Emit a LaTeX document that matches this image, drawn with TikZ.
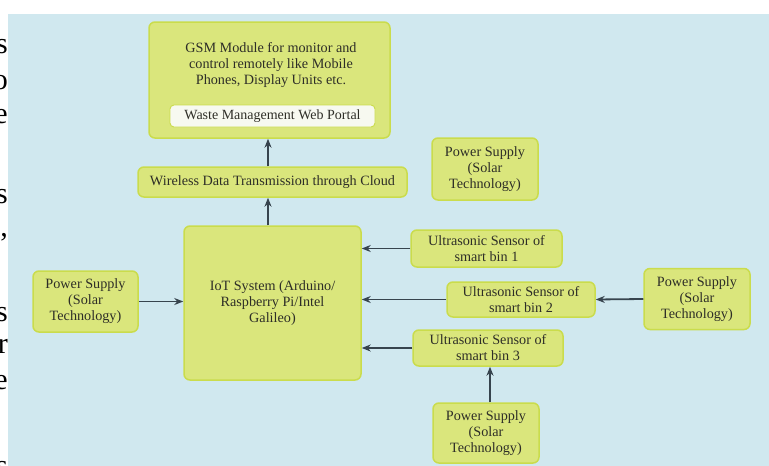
\documentclass[tikz,border=0pt]{standalone}
\usepackage{fontspec}
\setmainfont{Liberation Serif}
\usetikzlibrary{arrows.meta}
\definecolor{bgblue}{HTML}{D0E8EF}
\definecolor{boxfill}{HTML}{DAE67C}
\definecolor{boxborder}{HTML}{CADC4C}
\definecolor{arrcol}{HTML}{37444E}
\definecolor{txt}{HTML}{2E2E27}
\definecolor{portalfill}{HTML}{F7F9F0}
\tikzset{
  box/.style={draw=boxborder, line width=1.5pt, fill=boxfill, rounded corners=6pt,
    align=center, text=txt, font=\fontsize{14.2}{16}\selectfont, inner sep=0pt},
  plain/.style={align=center, text=txt, font=\fontsize{14.2}{16}\selectfont, inner sep=0pt},
  arr/.style={-{Stealth[length=9pt,width=7pt]}, line width=1.8pt, draw=arrcol},
  edge letter/.style={anchor=base east, inner sep=0pt, font=\fontsize{30}{30}\selectfont, text=black}
}
\begin{document}
\begin{tikzpicture}[x=1pt,y=-1pt]
\useasboundingbox (0,0) rectangle (769,466);
\clip (0,0) rectangle (769,466);
% page text fragments at the left edge
\node[edge letter] (l1) at (8,53) {s};
\node[edge letter] (l2) at (8,89) {o};
\node[edge letter] (l3) at (8,123) {e};
\node[edge letter] (l4) at (8,203) {s};
\node[edge letter] (l5) at (8,236) {,};
\node[edge letter] (l6) at (8,321) {s};
\node[edge letter] (l7) at (8,353) {r};
\node[edge letter] (l8) at (8,389) {e};
\node[edge letter] (l9) at (8,475) {s};
% background
\fill[bgblue] (8,14) rectangle (769,466);

% top module
\node[box, minimum width=241pt, minimum height=116pt] (gsm) at (269.5,80) {};
\node[plain] (gsmtext) at (271,65.5) {GSM Module for monitor and\\control remotely like Mobile\\Phones, Display Units etc.};
\node[draw=boxborder, line width=0.9pt, fill=portalfill, rounded corners=4pt, text=txt,
  font=\fontsize{14}{16}\selectfont, minimum width=205pt, minimum height=22pt, inner sep=0pt]
  (portal) at (272.5,116) {Waste Management Web Portal};

\node[box, minimum width=269pt, minimum height=30pt] (wireless) at (272.5,182) {Wireless Data Transmission through Cloud};
\node[box, minimum width=177pt, minimum height=154pt] (iot) at (272.5,303) {IoT System (Arduino/\\Raspberry Pi/Intel\\Galileo)};

\node[box, minimum width=105pt, minimum height=61pt] (psL) at (85.5,301.5) {Power Supply\\(Solar\\Technology)};
\node[box, minimum width=106pt, minimum height=62pt] (psT) at (485,169) {Power Supply\\(Solar\\Technology)};
\node[box, minimum width=151pt, minimum height=37pt] (us1) at (486.5,248.5) {Ultrasonic Sensor of\\smart bin 1};
\node[box, minimum width=148pt, minimum height=35pt] (us2) at (521,299.5) {Ultrasonic Sensor of\\smart bin 2};
\node[box, minimum width=106pt, minimum height=61pt] (psR) at (697,299) {Power Supply\\(Solar\\Technology)};
\node[box, minimum width=150pt, minimum height=36pt] (us3) at (488,348) {Ultrasonic Sensor of\\smart bin 3};
\node[box, minimum width=106pt, minimum height=60pt] (psB) at (486,433) {Power Supply\\(Solar\\Technology)};

% connectors
\draw[arr] ([xshift=-4.5pt]wireless.north) -- ([xshift=-1.5pt]gsm.south);
\draw[arr] ([xshift=-4.5pt]iot.north) -- ([xshift=-4.5pt]wireless.south);
\draw[arr] (psL.east) -- (psL.east -| iot.west);
\draw[arr] (us1.west) -- (us1.west -| iot.east);
\draw[arr] (us2.west) -- (us2.west -| iot.east);
\draw[arr] (us3.west) -- (us3.west -| iot.east);
\draw[arr] (psR.west) -- (us2.east);
\draw[arr] ([xshift=4pt]psB.north) -- ([xshift=2pt]us3.south);
\end{tikzpicture}
\end{document}
